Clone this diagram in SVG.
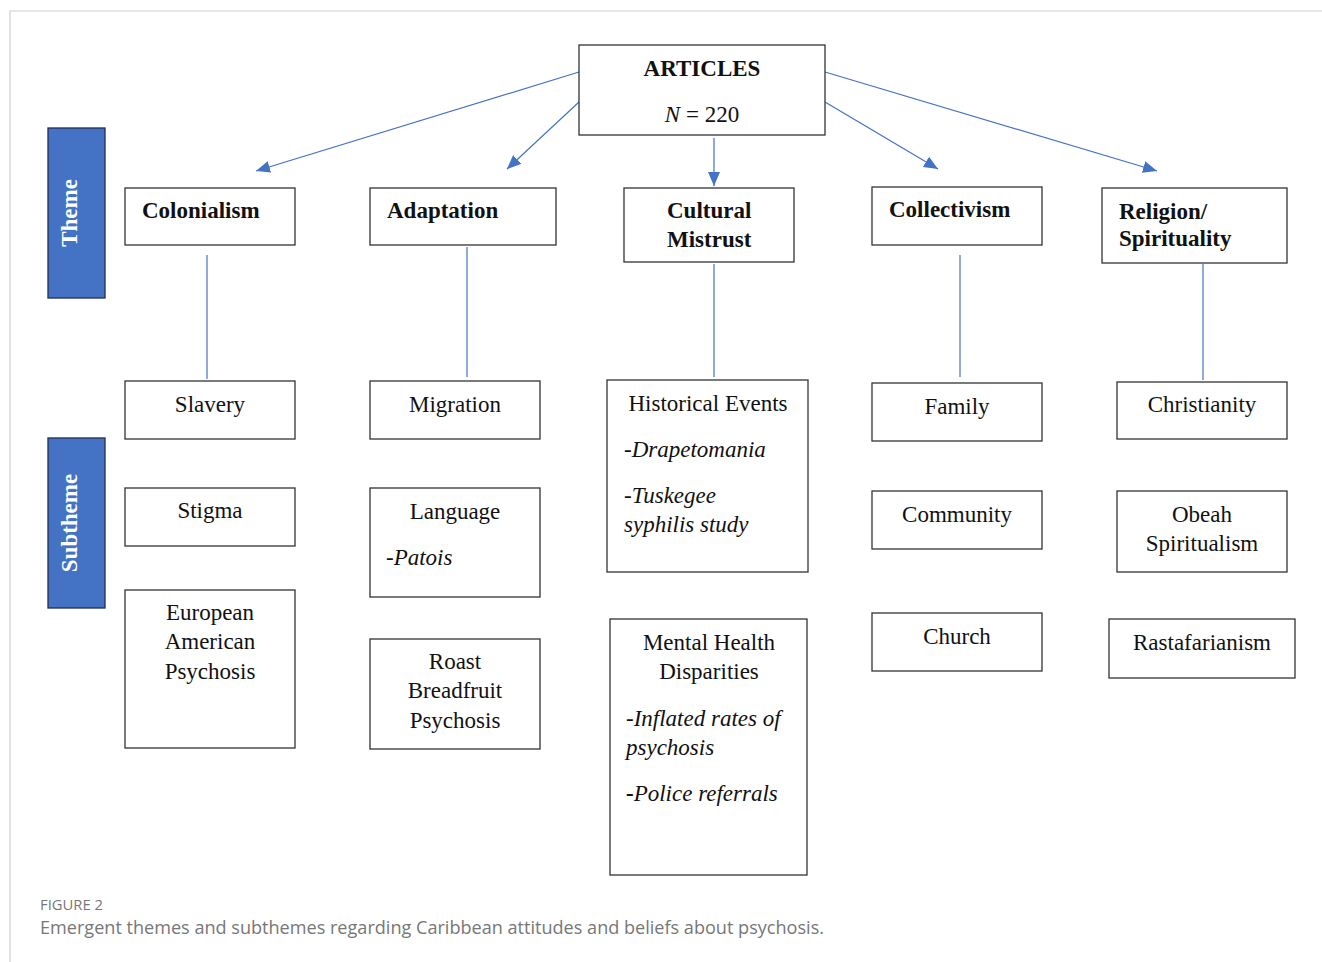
<svg xmlns="http://www.w3.org/2000/svg" width="1322" height="962" viewBox="0 0 1322 962">
<defs>
<style>
.box{fill:#fff;stroke:#333;stroke-width:1.3}
.bar{fill:#4472c4;stroke:#1f2f4f;stroke-width:1.3}
.conn{stroke:#4472c4;stroke-width:1.2;fill:none}
.t{font-family:"Liberation Serif","Times New Roman",serif;font-size:23px;fill:#111}
.b{font-weight:bold}
.i{font-style:italic}
.m{text-anchor:middle}
.bt{font-family:"Liberation Serif","Times New Roman",serif;font-size:23px;font-weight:bold;fill:#fff;text-anchor:middle}
.cap{font-family:"Open Sans","Noto Sans",sans-serif;fill:#777}
</style>
<marker id="ah" markerUnits="userSpaceOnUse" markerWidth="16" markerHeight="14" refX="14" refY="6" orient="auto">
<path d="M0,0 L14,6 L0,12 z" fill="#4472c4"/>
</marker>
</defs>
<rect width="1322" height="962" fill="#fff"/>
<path d="M10,962 V11 H1322" fill="none" stroke="#d0d0d0" stroke-width="1.2"/>

<g id="connectors">
<line class="conn" x1="579" y1="72" x2="256" y2="171" marker-end="url(#ah)"/>
<line class="conn" x1="579" y1="102" x2="507" y2="169" marker-end="url(#ah)"/>
<line class="conn" x1="714" y1="138" x2="714" y2="186" marker-end="url(#ah)"/>
<line class="conn" x1="825" y1="102" x2="938" y2="169" marker-end="url(#ah)"/>
<line class="conn" x1="825" y1="72" x2="1157" y2="171" marker-end="url(#ah)"/>
<line class="conn" x1="207" y1="255" x2="207" y2="379"/>
<line class="conn" x1="467" y1="247" x2="467" y2="377"/>
<line class="conn" x1="714" y1="264" x2="714" y2="377"/>
<line class="conn" x1="960" y1="255" x2="960" y2="377"/>
<line class="conn" x1="1203" y1="264" x2="1203" y2="380"/>
</g>

<g id="articles">
<rect class="box" x="579" y="45" width="246" height="90"/>
<text class="t b m" x="702" y="76">ARTICLES</text>
<text class="t m" x="702" y="122"><tspan class="i">N</tspan> = 220</text>
</g>

<g id="theme-label">
<rect class="bar" x="48" y="128" width="57" height="170"/>
<text class="bt" transform="translate(77,213) rotate(-90)">Theme</text>
</g>
<g id="subtheme-label">
<rect class="bar" x="48" y="438" width="57" height="170"/>
<text class="bt" transform="translate(77,523) rotate(-90)">Subtheme</text>
</g>

<g id="colonialism">
<rect class="box" x="125" y="188" width="170" height="57"/>
<text class="t b" x="142" y="218">Colonialism</text>
</g>
<g id="adaptation">
<rect class="box" x="370" y="188" width="186" height="57"/>
<text class="t b" x="387" y="218">Adaptation</text>
</g>
<g id="cultural-mistrust">
<rect class="box" x="624" y="188" width="170" height="74"/>
<text class="t b" x="667" y="218">Cultural</text>
<text class="t b" x="667" y="247">Mistrust</text>
</g>
<g id="collectivism">
<rect class="box" x="872" y="187" width="170" height="58"/>
<text class="t b" x="889" y="217">Collectivism</text>
</g>
<g id="religion">
<rect class="box" x="1102" y="188" width="185" height="75"/>
<text class="t b" x="1119" y="219">Religion/</text>
<text class="t b" x="1119" y="246">Spirituality</text>
</g>

<g id="slavery">
<rect class="box" x="125" y="381" width="170" height="58"/>
<text class="t m" x="210" y="412">Slavery</text>
</g>
<g id="stigma">
<rect class="box" x="125" y="488" width="170" height="58"/>
<text class="t m" x="210" y="518">Stigma</text>
</g>
<g id="european-american-psychosis">
<rect class="box" x="125" y="590" width="170" height="158"/>
<text class="t m" x="210" y="620">European</text>
<text class="t m" x="210" y="649">American</text>
<text class="t m" x="210" y="679">Psychosis</text>
</g>

<g id="migration">
<rect class="box" x="370" y="381" width="170" height="58"/>
<text class="t m" x="455" y="412">Migration</text>
</g>
<g id="language">
<rect class="box" x="370" y="488" width="170" height="109"/>
<text class="t m" x="455" y="519">Language</text>
<text class="t" x="386" y="565">-<tspan class="i">Patois</tspan></text>
</g>
<g id="roast-breadfruit">
<rect class="box" x="370" y="639" width="170" height="110"/>
<text class="t m" x="455" y="669">Roast</text>
<text class="t m" x="455" y="698">Breadfruit</text>
<text class="t m" x="455" y="728">Psychosis</text>
</g>

<g id="historical-events">
<rect class="box" x="607" y="380" width="201" height="192"/>
<text class="t m" x="708" y="411">Historical Events</text>
<text class="t i" x="624" y="457">-Drapetomania</text>
<text class="t i" x="624" y="503">-Tuskegee</text>
<text class="t i" x="624" y="532">syphilis study</text>
</g>
<g id="mental-health">
<rect class="box" x="610" y="619" width="197" height="256"/>
<text class="t m" x="709" y="650">Mental Health</text>
<text class="t m" x="709" y="679">Disparities</text>
<text class="t i" x="626" y="726">-Inflated rates of</text>
<text class="t i" x="626" y="755">psychosis</text>
<text class="t i" x="626" y="801"><tspan class="b" font-style="normal">-</tspan>Police referrals</text>
</g>

<g id="family">
<rect class="box" x="872" y="383" width="170" height="58"/>
<text class="t m" x="957" y="414">Family</text>
</g>
<g id="community">
<rect class="box" x="872" y="491" width="170" height="58"/>
<text class="t m" x="957" y="522">Community</text>
</g>
<g id="church">
<rect class="box" x="872" y="613" width="170" height="58"/>
<text class="t m" x="957" y="644">Church</text>
</g>

<g id="christianity">
<rect class="box" x="1117" y="382" width="170" height="57"/>
<text class="t m" x="1202" y="412">Christianity</text>
</g>
<g id="obeah">
<rect class="box" x="1117" y="491" width="170" height="81"/>
<text class="t m" x="1202" y="522">Obeah</text>
<text class="t m" x="1202" y="551">Spiritualism</text>
</g>
<g id="rastafarianism">
<rect class="box" x="1109" y="619" width="186" height="59"/>
<text class="t m" x="1202" y="650">Rastafarianism</text>
</g>

<g id="caption">
<text class="cap" x="40" y="910" font-size="15" textLength="63" lengthAdjust="spacingAndGlyphs">FIGURE 2</text>
<text class="cap" x="40" y="934" font-size="18" textLength="784" lengthAdjust="spacingAndGlyphs">Emergent themes and subthemes regarding Caribbean attitudes and beliefs about psychosis.</text>
</g>
</svg>
